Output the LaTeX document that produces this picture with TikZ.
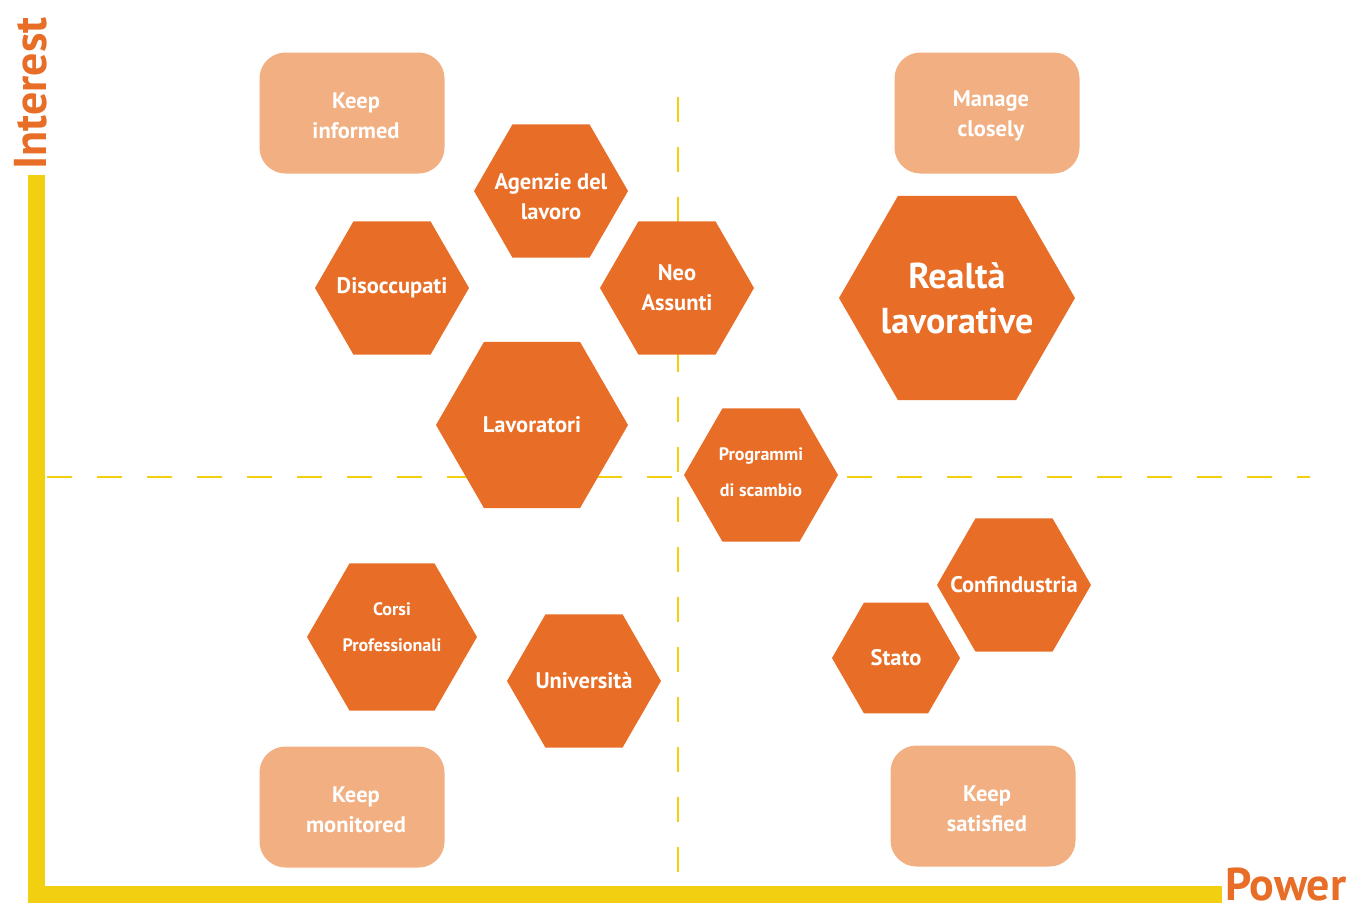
\documentclass[tikz,border=0pt]{standalone}
\usepackage{fontspec}
\setmainfont{PT Sans}
\definecolor{hexorange}{HTML}{E86E27}
\definecolor{boxpeach}{HTML}{F1AF82}
\definecolor{axisyellow}{HTML}{F3CF12}
\tikzset{
  hexfill/.style={fill=hexorange},
  hexlabel/.style={text=white, font=\bfseries\fontsize{22.5}{30}\selectfont, align=center, inner sep=0pt},
  smalllabel/.style={hexlabel, font=\bfseries\fontsize{18}{36}\selectfont},
  biglabel/.style={hexlabel, font=\bfseries\fontsize{36}{45}\selectfont},
  quadbox/.style={fill=boxpeach, rounded corners=26pt, minimum width=185pt, minimum height=121pt, inner sep=0pt},
  boxlabel/.style={text=white, font=\bfseries\fontsize{22.5}{30}\selectfont, align=center, inner sep=0pt,
    xshift=4pt, yshift=-3pt},
  axislabel/.style={text=hexorange, font=\bfseries\fontsize{46}{46}\selectfont, inner sep=0pt},
  divider/.style={draw=axisyellow, line width=2.5pt, dash pattern=on 25pt off 25pt},
}
% hexagon with flat top and bottom: name, x, y, circumradius, label style, text
\newcommand\drawhex[6]{%
  \fill[hexfill, shift={(#2,#3)}] (0:#4) -- (60:#4) -- (120:#4) -- (180:#4) -- (240:#4) -- (300:#4) -- cycle;
  \node[#5] (#1) at (#2,#3) {#6};}
\begin{document}
\begin{tikzpicture}[x=1pt, y=-1pt]
  \useasboundingbox (0,0) rectangle (1369,906);
  \fill[white] (0,0) rectangle (1369,906);

  % quadrant dividers
  \coordinate (vtop) at (678,97);
  \coordinate (vbot) at (678,886);
  \coordinate (hleft) at (47,477);
  \coordinate (hright) at (1310,477);
  \draw[divider] (vtop) -- (vbot);
  \draw[divider] (hleft) -- (hright);

  % axes
  \fill[axisyellow] (28,175) rectangle (45,903);
  \fill[axisyellow] (28,886) rectangle (1222,903);
  \node[axislabel, rotate=90, anchor=base west] (interest) at (46,170) {Interest};
  \node[axislabel, anchor=base west] (power) at (1225,900) {Power};

  % quadrant strategies
  \node[quadbox] (informed) at (352,113) {};
  \node[boxlabel] (informedtext) at (informed) {Keep\\informed};
  \node[quadbox] (closely) at (987,113) {};
  \node[boxlabel] (closelytext) at (closely) {Manage\\closely};
  \node[quadbox] (monitored) at (352,807) {};
  \node[boxlabel] (monitoredtext) at (monitored) {Keep\\monitored};
  \node[quadbox] (satisfied) at (983,806) {};
  \node[boxlabel] (satisfiedtext) at (satisfied) {Keep\\satisfied};

  % stakeholders
  \drawhex{agenzie}{551}{191}{77}{hexlabel, yshift=-6pt}{Agenzie del\\lavoro}
  \drawhex{disoccupati}{392}{288}{77}{hexlabel}{Disoccupati}
  \drawhex{neo}{677}{288}{77}{hexlabel}{Neo\\Assunti}
  \drawhex{lavoratori}{532}{425}{96}{hexlabel}{Lavoratori}
  \drawhex{realta}{957}{298}{118}{biglabel}{Realtà\\lavorative}
  \drawhex{programmi}{761}{475}{77}{smalllabel, yshift=3pt}{Programmi\\di scambio}
  \drawhex{confindustria}{1014}{585}{77}{hexlabel}{Confindustria}
  \drawhex{stato}{896}{658}{64}{hexlabel}{Stato}
  \drawhex{corsi}{392}{637}{85}{smalllabel, yshift=10pt}{Corsi\\Professionali}
  \drawhex{universita}{584}{681}{77}{hexlabel}{Università}
\end{tikzpicture}
\end{document}
